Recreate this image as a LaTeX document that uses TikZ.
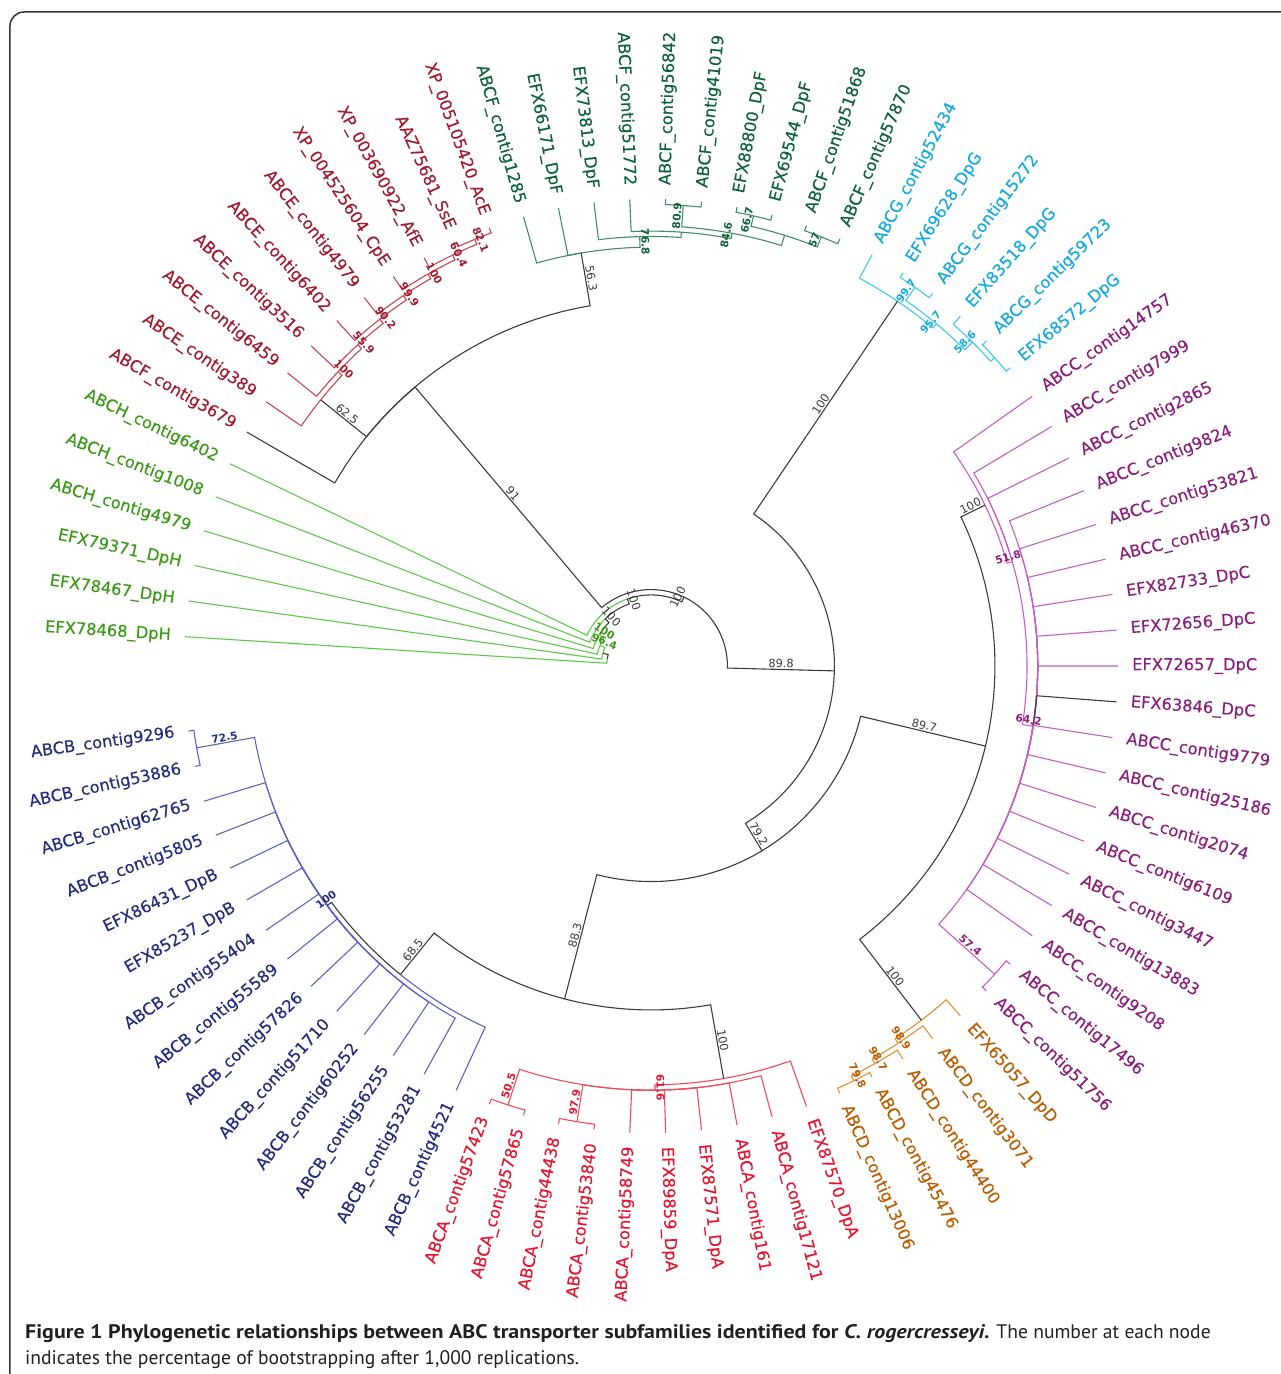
\documentclass[tikz,border=0pt]{standalone}
\usepackage{fontspec}
\setmainfont{DejaVu Sans}
\newfontfamily\leaffont{DejaVu Sans}[FakeBold=0.3]
\newfontfamily\capfont{PT Sans}
\definecolor{hG}{HTML}{5CC94A}
\definecolor{hGt}{HTML}{3A9A16}
\definecolor{eR}{HTML}{C9424F}
\definecolor{eRt}{HTML}{A11A2E}
\definecolor{fG}{HTML}{3E8E63}
\definecolor{fGt}{HTML}{0E6239}
\definecolor{gC}{HTML}{3CC8F2}
\definecolor{gCt}{HTML}{16A9DE}
\definecolor{cP}{HTML}{C35EC3}
\definecolor{cPt}{HTML}{8B1D7D}
\definecolor{dO}{HTML}{E58D35}
\definecolor{dOt}{HTML}{BA5D02}
\definecolor{aR}{HTML}{F24A5B}
\definecolor{aRt}{HTML}{E2162F}
\definecolor{bB}{HTML}{5B64C4}
\definecolor{bBt}{HTML}{232C7F}
\definecolor{blk}{HTML}{3C3C3C}
\definecolor{capc}{HTML}{231F20}
\definecolor{framec}{HTML}{333333}
\newcommand\TipR{467}
\newcommand\StepR{5.35}
\newcommand\LabR{481}
\makeatletter
\newcommand\defleaf[2]{%
  \pgfmathparse{176.4-4.41*#1}%
  \expandafter\xdef\csname An@L#1\endcsname{\pgfmathresult}%
  \expandafter\xdef\csname Rn@L#1\endcsname{\TipR}%
  \expandafter\xdef\csname Cl@L#1\endcsname{#2}%
}
\newcommand\defnode[4]{%
  \gdef\dn@sum{0}\gdef\dn@cnt{0}%
  \foreach \dn@c in {#3}{%
    \pgfmathparse{\dn@sum+\csname An@\dn@c\endcsname}\xdef\dn@sum{\pgfmathresult}%
    \pgfmathparse{\dn@cnt+1}\xdef\dn@cnt{\pgfmathresult}%
  }%
  \pgfmathparse{\dn@sum/\dn@cnt}\expandafter\xdef\csname An@#1\endcsname{\pgfmathresult}%
  \pgfmathparse{\TipR-(#2-1)*\StepR}\expandafter\xdef\csname Rn@#1\endcsname{\pgfmathresult}%
  \expandafter\gdef\csname Ch@#1\endcsname{#3}%
  \expandafter\xdef\csname Cl@#1\endcsname{#4}%
}
\newcommand\drawkids[1]{%
  \edef\dk@pa{\csname An@#1\endcsname}\edef\dk@pr{\csname Rn@#1\endcsname}%
  \edef\dk@list{\csname Ch@#1\endcsname}%
  \foreach \dk@c in \dk@list {%
    \edef\dk@ca{\csname An@\dk@c\endcsname}\edef\dk@cr{\csname Rn@\dk@c\endcsname}%
    \edef\dk@cl{\csname Cl@\dk@c\endcsname}%
    \draw[br,color=\dk@cl] (\dk@pa:\dk@pr pt) arc[start angle=\dk@pa,end angle=\dk@ca,radius=\dk@pr pt] -- (\dk@ca:\dk@cr pt);
  }%
}
\newcommand\rot@set[1]{%
  \ifdim #1pt>90pt \pgfmathsetmacro\rt@val{#1-180}\def\rt@left{1}%
  \else\ifdim #1pt<-90pt \pgfmathsetmacro\rt@val{#1+180}\def\rt@left{1}%
  \else\edef\rt@val{#1}\def\rt@left{0}\fi\fi}
\newcommand\bootlab[4]{%
  \edef\bl@ca{\csname An@#2\endcsname}%
  \pgfmathsetmacro\bl@r{(\csname Rn@#1\endcsname+\csname Rn@#2\endcsname)/2}%
  \rot@set{\bl@ca}%
  \node[#4,rotate=\rt@val,anchor=south] (bl#2) at (\bl@ca:\bl@r pt) {#3};%
}
\newcommand\leaflab[3]{%
  \edef\ll@a{\csname An@L#1\endcsname}%
  \rot@set{\ll@a}%
  \ifnum\rt@left=1
    \node[leaf,text=#3,rotate=\rt@val,anchor=east] (T#1) at (\ll@a:\LabR pt) {#2};%
  \else
    \node[leaf,text=#3,rotate=\rt@val,anchor=west] (T#1) at (\ll@a:\LabR pt) {#2};%
  \fi}
\makeatother
\begin{document}
\begin{tikzpicture}[x=1pt,y=1pt,
  br/.style={line width=1.1pt},
  leaf/.style={inner sep=0pt,font=\leaffont\fontsize{16.3}{18}\selectfont},
  bsk/.style={inner sep=1.3pt,font=\fontsize{11.4}{13}\selectfont,text=blk},
  bsc/.style={inner sep=1.3pt,font=\bfseries\fontsize{10.6}{12}\selectfont}]
\useasboundingbox (-651,-708) rectangle (630,666);
% frame
\draw[framec,line width=1.5pt,rounded corners=14pt] (-641,-730) -- (-641,654) -- (660,654);
% leaves
\foreach \i in {0,...,5}{\defleaf{\i}{hG}}
\defleaf{6}{blk}
\foreach \i in {7,...,15}{\defleaf{\i}{eR}}
\foreach \i in {16,...,25}{\defleaf{\i}{fG}}
\foreach \i in {26,...,31}{\defleaf{\i}{gC}}
\foreach \i in {32,...,50}{\defleaf{\i}{cP}}
\defleaf{41}{blk}
\foreach \i in {51,...,55}{\defleaf{\i}{dO}}
\foreach \i in {56,...,65}{\defleaf{\i}{aR}}
\foreach \i in {66,...,79}{\defleaf{\i}{bB}}
% internal nodes
\defnode{E1}{2}{L15,L14}{eR}
\defnode{E2}{3}{E1,L13}{eR}
\defnode{E3}{4}{E2,L12}{eR}
\defnode{E4}{5}{E3,L11}{eR}
\defnode{E5}{6}{E4,L10}{eR}
\defnode{E6}{7}{E5,L9}{eR}
\defnode{E7}{8}{E6,L8}{eR}
\defnode{E8}{9}{E7,L7}{blk}
\defnode{K1}{2}{L22,L23}{fG}
\defnode{K2}{2}{L24,L25}{fG}
\defnode{K}{4}{K1,K2}{fG}
\defnode{J1}{2}{L20,L21}{fG}
\defnode{J}{6}{J1,K}{fG}
\defnode{I}{7}{L19,J}{fG}
\defnode{H}{8}{L18,I}{fG}
\defnode{F}{10}{L16,L17,H}{blk}
\defnode{GA}{2}{L27,L28}{gC}
\defnode{GB2}{2}{L30,L31}{gC}
\defnode{GB}{3}{L29,GB2}{gC}
\defnode{GZ}{5}{GA,GB}{gC}
\defnode{G}{6}{L26,GZ}{blk}
\defnode{C49}{2}{L49,L50}{cP}
\defnode{P16}{16}{L35,L36,L37,L38,L39,L40,L41,L42,L43,L44,L45,L46,L47,L48,C49}{cP}
\defnode{C18}{18}{L33,L34,P16}{cP}
\defnode{C}{19}{L32,C18}{blk}
\defnode{D2}{2}{L54,L55}{dO}
\defnode{D3}{3}{L53,D2}{dO}
\defnode{D4}{4}{L52,D3}{dO}
\defnode{D}{5}{L51,D4}{blk}
\defnode{A2a}{2}{L62,L63}{aR}
\defnode{A2b}{2}{L64,L65}{aR}
\defnode{A9}{9}{L57,L58,L59,L60,L61,A2a,A2b}{aR}
\defnode{A}{10}{L56,A9}{blk}
\defnode{B2}{2}{L78,L79}{bB}
\defnode{B13}{13}{L67,L68,L69,L70,L71,L72,L73,L74,L75,L76,L77,B2}{blk}
\defnode{B}{14}{L66,B13}{blk}
\defnode{N88}{24}{A,B}{blk}
\defnode{N897}{24}{C,D}{blk}
\defnode{N792}{48}{N897,N88}{blk}
\defnode{N898}{54}{G,N792}{blk}
\defnode{N91}{20}{L6,E8,F}{blk}
\defnode{N74}{74}{N91,N898}{blk}
\defnode{N75}{75}{N74,L5}{blk}
\defnode{N76}{76}{N75,L4}{blk}
\defnode{N77}{77}{N76,L3}{hG}
\defnode{N78}{78}{N77,L2}{hG}
\defnode{N79}{79}{N78,L1}{blk}
\defnode{N80}{80}{N79,L0}{blk}
% branches
\foreach \nd in {E1,E2,E3,E4,E5,E6,E7,E8,K1,K2,K,J1,J,I,H,F,GA,GB2,GB,GZ,G,C49,P16,C18,C,D2,D3,D4,D,A2a,A2b,A9,A,B2,B13,B,N88,N897,N792,N898,N91,N74,N75,N76,N77,N78,N79,N80}{\drawkids{\nd}}
% bootstrap labels
\bootlab{E2}{E1}{82.1}{bsc,text=eRt}
\bootlab{E3}{E2}{60.4}{bsc,text=eRt}
\bootlab{E4}{E3}{100}{bsc,text=eRt}
\bootlab{E5}{E4}{99.9}{bsc,text=eRt}
\bootlab{E6}{E5}{90.2}{bsc,text=eRt}
\bootlab{E7}{E6}{55.9}{bsc,text=eRt}
\bootlab{E8}{E7}{100}{bsc,text=eRt}
\bootlab{N91}{E8}{62.5}{bsk}
\bootlab{N91}{F}{56.3}{bsk}
\bootlab{N74}{N91}{91}{bsk}
\bootlab{F}{H}{76.8}{bsc,text=fGt}
\bootlab{I}{J}{84.6}{bsc,text=fGt}
\bootlab{J}{J1}{80.9}{bsc,text=fGt}
\bootlab{K}{K1}{66.7}{bsc,text=fGt}
\bootlab{K}{K2}{57}{bsc,text=fGt}
\bootlab{N898}{G}{100}{bsk}
\bootlab{G}{GZ}{95.7}{bsc,text=gCt}
\bootlab{GZ}{GA}{99.7}{bsc,text=gCt}
\bootlab{GZ}{GB}{58.6}{bsc,text=gCt}
\bootlab{N74}{N898}{89.8}{bsk}
\bootlab{N898}{N792}{79.2}{bsk}
\bootlab{N792}{N897}{89.7}{bsk}
\bootlab{N792}{N88}{88.3}{bsk}
\bootlab{N897}{C}{100}{bsk}
\bootlab{C}{C18}{51.8}{bsc,text=cPt}
\bootlab{C18}{P16}{64.2}{bsc,text=cPt}
\bootlab{P16}{C49}{57.4}{bsc,text=cPt}
\bootlab{N897}{D}{100}{bsk}
\bootlab{D}{D4}{98.9}{bsc,text=dOt}
\bootlab{D4}{D3}{98.7}{bsc,text=dOt}
\bootlab{D3}{D2}{79.8}{bsc,text=dOt}
\bootlab{N88}{A}{100}{bsk}
\bootlab{A}{A9}{61.6}{bsc,text=aRt}
\bootlab{A9}{A2a}{97.9}{bsc,text=aRt}
\bootlab{A9}{A2b}{50.5}{bsc,text=aRt}
\bootlab{N88}{B}{68.5}{bsk}
\bootlab{B}{B13}{100}{bsc,text=bBt}
\bootlab{B13}{B2}{72.5}{bsc,text=bBt}
\bootlab{N75}{N74}{100}{bsk}
\bootlab{N76}{N75}{100}{bsk}
\bootlab{N77}{N76}{100}{bsk}
\bootlab{N78}{N77}{100}{bsc,text=hGt}
\bootlab{N79}{N78}{96.4}{bsc,text=hGt}
% leaf labels
\leaflab{0}{EFX78468\_DpH}{hGt}
\leaflab{1}{EFX78467\_DpH}{hGt}
\leaflab{2}{EFX79371\_DpH}{hGt}
\leaflab{3}{ABCH\_contig4979}{hGt}
\leaflab{4}{ABCH\_contig1008}{hGt}
\leaflab{5}{ABCH\_contig6402}{hGt}
\leaflab{6}{ABCF\_contig3679}{eRt}
\leaflab{7}{ABCE\_contig389}{eRt}
\leaflab{8}{ABCE\_contig6459}{eRt}
\leaflab{9}{ABCE\_contig3516}{eRt}
\leaflab{10}{ABCE\_contig6402}{eRt}
\leaflab{11}{ABCE\_contig4979}{eRt}
\leaflab{12}{XP\_004525604\_CpE}{eRt}
\leaflab{13}{XP\_003690922\_AfE}{eRt}
\leaflab{14}{AAZ75681\_SsE}{eRt}
\leaflab{15}{XP\_005105420\_AcE}{eRt}
\leaflab{16}{ABCF\_contig1285}{fGt}
\leaflab{17}{EFX66171\_DpF}{fGt}
\leaflab{18}{EFX73813\_DpF}{fGt}
\leaflab{19}{ABCF\_contig51772}{fGt}
\leaflab{20}{ABCF\_contig56842}{fGt}
\leaflab{21}{ABCF\_contig41019}{fGt}
\leaflab{22}{EFX88800\_DpF}{fGt}
\leaflab{23}{EFX69544\_DpF}{fGt}
\leaflab{24}{ABCF\_contig51868}{fGt}
\leaflab{25}{ABCF\_contig57870}{fGt}
\leaflab{26}{ABCG\_contig52434}{gCt}
\leaflab{27}{EFX69628\_DpG}{gCt}
\leaflab{28}{ABCG\_contig15272}{gCt}
\leaflab{29}{EFX83518\_DpG}{gCt}
\leaflab{30}{ABCG\_contig59723}{gCt}
\leaflab{31}{EFX68572\_DpG}{gCt}
\leaflab{32}{ABCC\_contig14757}{cPt}
\leaflab{33}{ABCC\_contig7999}{cPt}
\leaflab{34}{ABCC\_contig2865}{cPt}
\leaflab{35}{ABCC\_contig9824}{cPt}
\leaflab{36}{ABCC\_contig53821}{cPt}
\leaflab{37}{ABCC\_contig46370}{cPt}
\leaflab{38}{EFX82733\_DpC}{cPt}
\leaflab{39}{EFX72656\_DpC}{cPt}
\leaflab{40}{EFX72657\_DpC}{cPt}
\leaflab{41}{EFX63846\_DpC}{cPt}
\leaflab{42}{ABCC\_contig9779}{cPt}
\leaflab{43}{ABCC\_contig25186}{cPt}
\leaflab{44}{ABCC\_contig2074}{cPt}
\leaflab{45}{ABCC\_contig6109}{cPt}
\leaflab{46}{ABCC\_contig3447}{cPt}
\leaflab{47}{ABCC\_contig13883}{cPt}
\leaflab{48}{ABCC\_contig9208}{cPt}
\leaflab{49}{ABCC\_contig17496}{cPt}
\leaflab{50}{ABCC\_contig51756}{cPt}
\leaflab{51}{EFX65057\_DpD}{dOt}
\leaflab{52}{ABCD\_contig3071}{dOt}
\leaflab{53}{ABCD\_contig44400}{dOt}
\leaflab{54}{ABCD\_contig45476}{dOt}
\leaflab{55}{ABCD\_contig13006}{dOt}
\leaflab{56}{EFX87570\_DpA}{aRt}
\leaflab{57}{ABCA\_contig17121}{aRt}
\leaflab{58}{ABCA\_contig161}{aRt}
\leaflab{59}{EFX87571\_DpA}{aRt}
\leaflab{60}{EFX89859\_DpA}{aRt}
\leaflab{61}{ABCA\_contig58749}{aRt}
\leaflab{62}{ABCA\_contig53840}{aRt}
\leaflab{63}{ABCA\_contig44438}{aRt}
\leaflab{64}{ABCA\_contig57865}{aRt}
\leaflab{65}{ABCA\_contig57423}{aRt}
\leaflab{66}{ABCB\_contig4521}{bBt}
\leaflab{67}{ABCB\_contig53281}{bBt}
\leaflab{68}{ABCB\_contig56255}{bBt}
\leaflab{69}{ABCB\_contig60252}{bBt}
\leaflab{70}{ABCB\_contig51710}{bBt}
\leaflab{71}{ABCB\_contig57826}{bBt}
\leaflab{72}{ABCB\_contig55589}{bBt}
\leaflab{73}{ABCB\_contig55404}{bBt}
\leaflab{74}{EFX85237\_DpB}{bBt}
\leaflab{75}{EFX86431\_DpB}{bBt}
\leaflab{76}{ABCB\_contig5805}{bBt}
\leaflab{77}{ABCB\_contig62765}{bBt}
\leaflab{78}{ABCB\_contig53886}{bBt}
\leaflab{79}{ABCB\_contig9296}{bBt}
% caption
\node[anchor=base west,inner sep=0pt,text=capc,font=\capfont\fontsize{19.6}{23}\selectfont] (cap1) at (-626,-672)
  {{\bfseries\addfontfeatures{FakeStretch=1.12}Figure 1 Phylogenetic relationships between ABC transporter subfamilies identified for \textit{C. rogercresseyi}.} The number at each node};
\node[anchor=base west,inner sep=0pt,text=capc,font=\capfont\fontsize{19.6}{23}\selectfont] (cap2) at (-626,-698)
  {indicates the percentage of bootstrapping after 1,000 replications.};
\end{tikzpicture}
\end{document}
